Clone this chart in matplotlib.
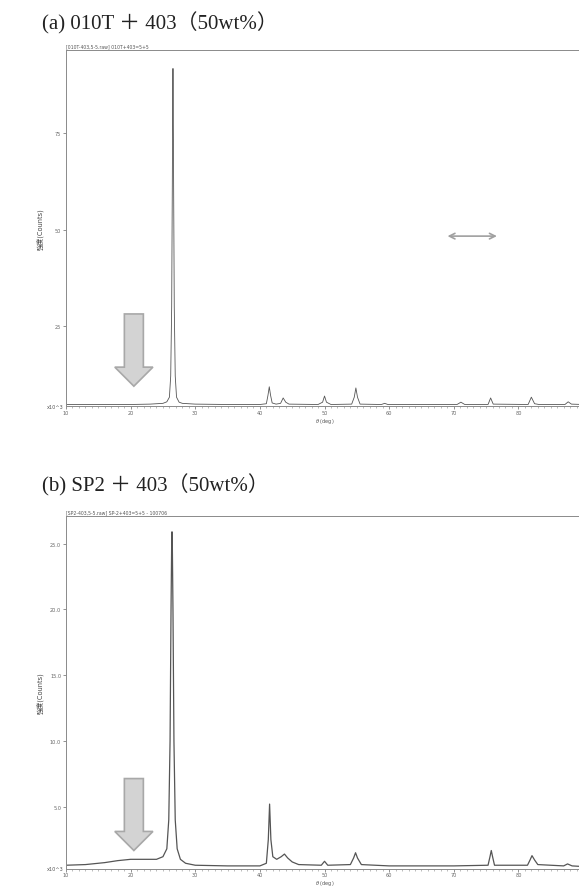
'''XRD patterns: 010T + 403 and SP2 + 403 (50wt%).'''

import matplotlib
matplotlib.use('Agg')
import matplotlib.pyplot as plt
from matplotlib.patches import Polygon
from matplotlib.ticker import MultipleLocator

plt.rcParams['font.family'] = ['DejaVu Sans', 'Noto Sans CJK JP']

# (a) 010T + 403 : 2theta [deg], intensity [x10^3 counts]
tt_a = [10, 15, 20, 23, 25, 25.6, 26.0, 26.2, 26.35, 26.45, 26.52, 26.55, 26.58,
        26.65, 26.75, 26.9, 27.1, 27.5, 28, 30, 35, 40, 41.0, 41.25, 41.45, 41.65,
        41.9, 42.5, 43.2, 43.6, 44.0, 44.5, 49, 49.7, 50.0, 50.3, 51, 54.2, 54.6,
        54.85, 55.1, 55.5, 58.8, 59.3, 59.8, 70.5, 71.1, 71.7, 75.3, 75.7, 76.1,
        81.5, 82.0, 82.5, 83.2, 87.2, 87.7, 88.2, 90]
int_a = [4.6, 4.6, 4.6, 4.7, 4.9, 5.3, 6.5, 12, 30, 62, 88, 91.8, 88,
         62, 30, 12, 6.5, 5.2, 4.9, 4.7, 4.6, 4.6, 4.8, 7.0, 9.2, 7.0,
         5.0, 4.7, 4.9, 6.3, 5.2, 4.7, 4.6, 5.2, 6.8, 5.2, 4.6, 4.7, 6.5,
         8.9, 6.5, 4.7, 4.6, 4.9, 4.6, 4.6, 5.2, 4.6, 4.6, 6.3, 4.7,
         4.6, 6.5, 4.8, 4.6, 4.6, 5.3, 4.7, 4.6]

# (b) SP2 + 403
tt_b = [10, 13, 16, 18, 20, 22, 24, 25, 25.6, 25.9, 26.1, 26.25, 26.35, 26.4,
        26.45, 26.55, 26.7, 26.9, 27.2, 27.7, 28.5, 30, 35, 40, 41.0, 41.3, 41.5,
        41.7, 42.0, 42.6, 43.3, 43.8, 44.3, 45, 46, 49.5, 50.0, 50.5, 54.0, 54.5,
        54.8, 55.1, 55.7, 60, 70, 75.3, 75.6, 75.8, 76.0, 76.3, 81.4, 81.8, 82.1,
        82.5, 83, 87.0, 87.6, 88.3, 90]
int_b = [0.55, 0.6, 0.75, 0.9, 1.0, 1.0, 1.0, 1.2, 1.8, 4.0, 10, 20, 25.0, 25.9,
         25.0, 20, 10, 4.0, 1.8, 1.0, 0.7, 0.55, 0.5, 0.5, 0.7, 2.5, 5.2,
         2.5, 1.2, 1.0, 1.2, 1.4, 1.1, 0.8, 0.6, 0.55, 0.85, 0.55, 0.6, 1.1,
         1.5, 1.1, 0.6, 0.5, 0.5, 0.55, 1.2, 1.67, 1.2, 0.55, 0.55, 0.95, 1.28,
         0.95, 0.6, 0.5, 0.65, 0.5, 0.45]

yticks_a = [25, 50, 75]
yticks_b = [5.0, 10.0, 15.0, 20.0, 25.0]
xticks = [10, 20, 30, 40, 50, 60, 70, 80]

serif = ['Liberation Serif', 'Noto Sans CJK JP']
grey = '#8a8a8a'

fig = plt.figure(figsize=[5.79, 8.87], dpi=100)


def panel(rect, tt, inten, ylim, yticks, fmt, lw, head, title, title_y, arrow):
    ax = fig.add_axes(rect)
    ax.plot(tt, inten, color='#555555', linewidth=lw)
    ax.set_xlim(10, 90)
    ax.set_ylim(*ylim)
    ax.set_xticks(xticks)
    ax.set_xticklabels([str(t) for t in xticks])
    ax.xaxis.set_minor_locator(MultipleLocator(1))
    ax.set_yticks(yticks)
    ax.set_yticklabels([fmt % v for v in yticks])
    ax.tick_params(labelsize=3.6, length=2, width=0.5, colors='#666666', pad=1.5)
    ax.tick_params(axis='x', pad=0.8)
    ax.tick_params(which='minor', length=1.5, width=0.4, colors='#888888')
    for s in ['left', 'bottom', 'top']:
        ax.spines[s].set_color(grey)
        ax.spines[s].set_linewidth(0.7)
    ax.spines['right'].set_visible(False)
    # xlabel sits ~14 px under the axis
    ax.set_xlabel(r'$\theta$ (deg)', fontsize=3.6, color='#555555', va='center')
    ax.xaxis.set_label_coords(0.5, -14.0 / (rect[3] * 887))
    ax.set_ylabel('強度(Counts)', fontsize=4.8, color='#444444')
    ax.yaxis.set_label_coords(-0.044, 0.5)
    ax.text(-0.005, 0.0, 'x10^3', transform=ax.transAxes, fontsize=3.6,
            ha='right', va='center', color='#555555')
    ax.text(0.0, 1.006, head, transform=ax.transAxes, fontsize=3.3,
            ha='left', va='bottom', color='#555555')
    fig.text(0.073, title_y, title, fontsize=15, family=serif,
             ha='left', va='center', color='#222222')

    # big block arrow pointing at the ~20 deg region
    xc, top, neck, tip = arrow
    pts = [(xc - 1.47, top), (xc + 1.47, top), (xc + 1.47, neck), (xc + 2.95, neck),
           (xc, tip), (xc - 2.95, neck), (xc - 1.47, neck)]
    ax.add_patch(Polygon(pts, closed=True, facecolor='#d3d3d3',
                         edgecolor='#a8a8a8', linewidth=1.2, zorder=3))
    return ax


ax1 = panel([0.114, 0.5411, 0.893, 0.4014], tt_a, int_a, (4.2, 96.6), yticks_a,
            '%d', 0.6, '[010T-403,5-5.raw] 010T+403=5+5',
            '(a) 010T ＋ 403（50wt%）', 0.974, (20.5, 28.1, 14.3, 9.35))
ax1.annotate('', xy=(68.6, 48.3), xytext=(77.1, 48.3),
             arrowprops=dict(arrowstyle='<->', color='#a0a0a0', lw=1.2))

ax2 = panel([0.114, 0.0197, 0.893, 0.3974], tt_b, int_b, (0.3, 27.1), yticks_b,
            '%.1f', 0.9, '[SP2-403,5-5.raw] SP-2+403=5+5 - 100706',
            '(b) SP2 ＋ 403（50wt%）', 0.453, (20.5, 7.14, 3.12, 1.67))

fig.savefig('out.png', dpi=100)
